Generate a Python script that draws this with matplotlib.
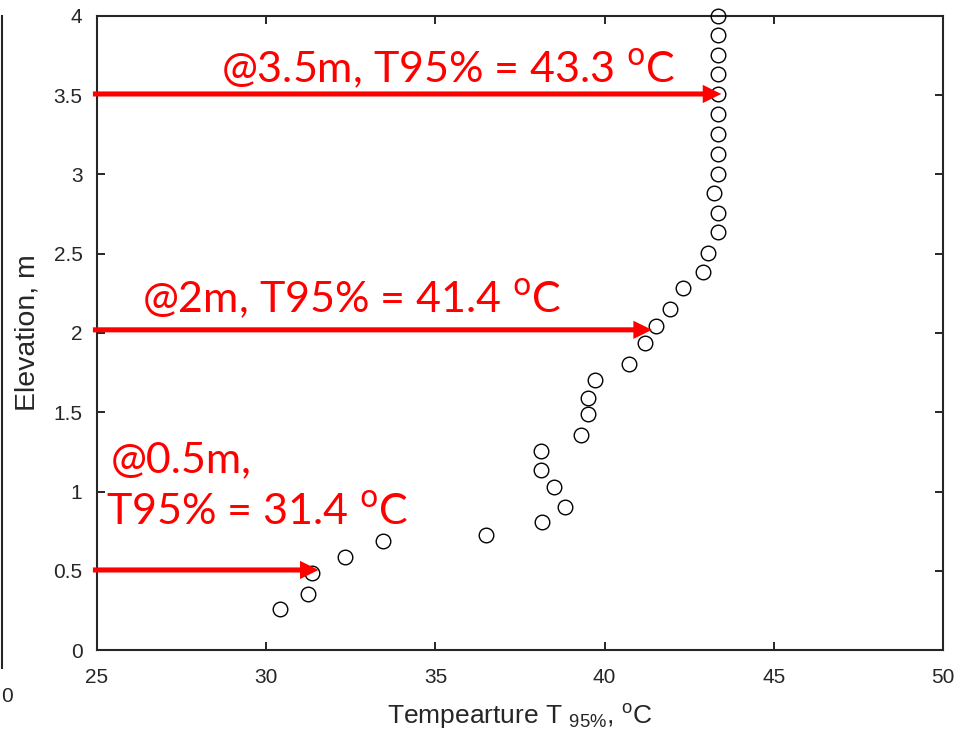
import matplotlib
matplotlib.use("Agg")
import matplotlib.pyplot as plt
from matplotlib.lines import Line2D

# ---- data ----
temperature = [30.41, 31.24, 31.36, 32.33, 33.45, 36.50, 38.15, 38.83, 38.50, 38.12,
               38.12, 39.30, 39.51, 39.51, 39.72, 40.72, 41.19, 41.52, 41.93, 42.32,
               42.91, 43.06, 43.35, 43.35, 43.23, 43.35, 43.35, 43.35, 43.35, 43.35,
               43.35, 43.35, 43.35, 43.35]
elevation = [0.259, 0.353, 0.486, 0.587, 0.688, 0.726, 0.808, 0.902, 1.028, 1.136,
             1.256, 1.356, 1.489, 1.590, 1.703, 1.804, 1.937, 2.044, 2.151, 2.284,
             2.385, 2.505, 2.637, 2.757, 2.883, 3.003, 3.129, 3.256, 3.382, 3.508,
             3.634, 3.754, 3.880, 4.000]

arrow_elev = [0.505, 2.02, 3.508]
arrow_tip_T = [31.55, 41.4, 43.45]
arrow_start_T = 24.88
annot_lines = ["@0.5m,",
               "T95% = 31.4 $^{\\mathrm{o}}$C",
               "@2m, T95% = 41.4 $^{\\mathrm{o}}$C",
               "@3.5m, T95% = 43.3 $^{\\mathrm{o}}$C"]
annot_pos = [(25.42, 1.123), (25.28, 0.789), (26.34, 2.133), (28.67, 3.584)]

xticks = [25, 30, 35, 40, 45, 50]
yticks = [0, 0.5, 1, 1.5, 2, 2.5, 3, 3.5, 4]
ytick_labels = ["0", "0.5", "1", "1.5", "2", "2.5", "3", "3.5", "4"]

plt.rcParams['font.family'] = ['Liberation Sans', 'DejaVu Sans']
plt.rcParams['mathtext.fontset'] = 'dejavusans'
plt.rcParams['mathtext.rm'] = 'Liberation Sans'
plt.rcParams['mathtext.it'] = 'Liberation Sans'

axcol = '#262626'
fig = plt.figure(figsize=(9.61, 7.4), dpi=100)
ax = fig.add_axes([0.1009, 0.1216, 0.8804, 0.8568])

ax.plot(temperature, elevation, linestyle='none', marker='o', markersize=10.5,
        markerfacecolor='none', markeredgecolor='black', markeredgewidth=1.0,
        clip_on=False, zorder=3)

ax.set_xlim(25, 50)
ax.set_ylim(0, 4)
ax.set_xticks(xticks)
ax.set_yticks(yticks)
ax.set_yticklabels(ytick_labels)
ax.tick_params(direction='in', length=6, width=1.4, color=axcol, labelcolor=axcol,
               labelsize=15, top=True, right=True)
ax.tick_params(axis='x', pad=13)
ax.tick_params(axis='y', pad=10.5)
for s in ax.spines.values():
    s.set_linewidth(1.5)
    s.set_color(axcol)

ax.set_xlabel("Tempearture T $_{95\\%}$, $^{\\mathrm{o}}$C", fontsize=19, color=axcol,
              math_fontfamily='custom')
ax.set_ylabel("Elevation, m", fontsize=20.5, color=axcol)
ax.xaxis.set_label_coords(0.5, -0.082)
ax.yaxis.set_label_coords(-0.067, 0.5)

# red arrows and annotations
for yv, tip in zip(arrow_elev, arrow_tip_T):
    ax.arrow(arrow_start_T, yv, tip - arrow_start_T, 0, width=0.032,
             head_width=0.115, head_length=0.55, length_includes_head=True,
             color='#ff0000', clip_on=False, zorder=4, linewidth=0)

for txt, (tx, ty) in zip(annot_lines, annot_pos):
    ax.text(tx, ty, txt, color='#ff0000', fontsize=31, family=['Lato', 'DejaVu Sans'],
            ha='left', va='baseline', zorder=5)

# stray fragment at the left edge of the reference
fig.add_artist(Line2D([0.0025, 0.0025], [1 - 16 / 740, 1 - 668 / 740],
                      transform=fig.transFigure, color=axcol, linewidth=1.5))
fig.text(0.0075, 1 - 697 / 740, "0", fontsize=15, color=axcol, ha='center', va='center')

fig.savefig("out.png", dpi=100)
